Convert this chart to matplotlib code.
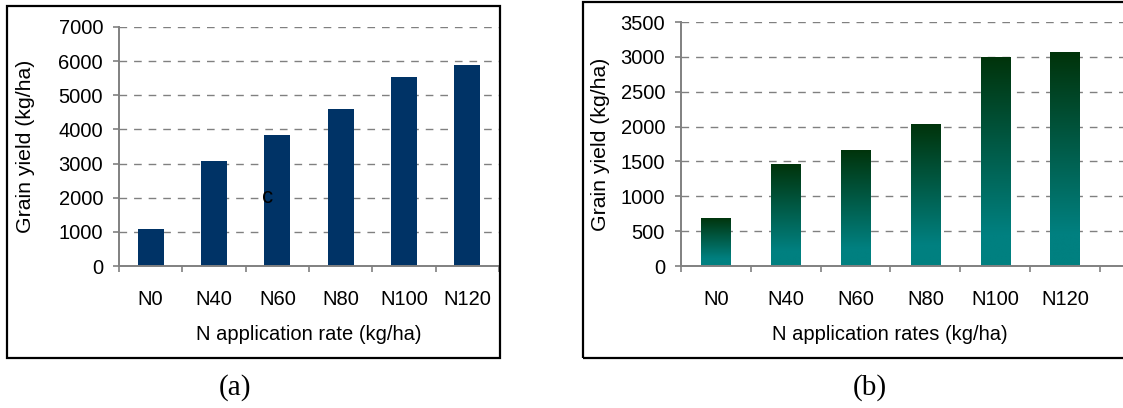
import matplotlib
matplotlib.use("Agg")
import matplotlib.pyplot as plt
import numpy as np
from matplotlib.patches import Rectangle
from matplotlib.colors import to_rgb

plt.rcParams['font.family'] = ['Liberation Sans', 'DejaVu Sans']

categories = ["N0", "N40", "N60", "N80", "N100", "N120"]
yield_a = [1075, 3065, 3830, 4590, 5530, 5880]
yield_b = [690, 1465, 1665, 2040, 3005, 3065]
yticks_a = [0, 1000, 2000, 3000, 4000, 5000, 6000, 7000]
yticks_b = [0, 500, 1000, 1500, 2000, 2500, 3000, 3500]

W, H = 1123, 408
fig = plt.figure(figsize=(W / 100, H / 100), dpi=100)

def px_axes(l, r, t, b):
    return fig.add_axes([l / W, (H - b) / H, (r - l) / W, (b - t) / H])

GRID = '#808080'
FS = 14.5

def style(ax, yticks, xmax):
    x = np.arange(len(categories))
    ax.set_xlim(-0.5, xmax)
    ax.set_ylim(0, yticks[-1])
    ax.set_yticks(yticks)
    ax.set_yticklabels([str(v) for v in yticks])
    ax.set_xticks(x)
    ax.set_xticklabels(categories)
    ax.set_xticks(np.arange(-0.5, len(categories) + 0.5, 1), minor=True)
    for s in ['top', 'right']:
        ax.spines[s].set_visible(False)
    for s in ['left', 'bottom']:
        ax.spines[s].set_color(GRID)
        ax.spines[s].set_linewidth(1.4)
    ax.tick_params(axis='x', which='major', length=0, pad=17, labelsize=FS)
    ax.tick_params(axis='x', which='minor', length=4.5, width=1.2, color=GRID, direction='out')
    ax.tick_params(axis='y', length=4.5, width=1.2, color=GRID, pad=7, labelsize=FS)
    for v in yticks[1:]:
        ax.axhline(v, color=GRID, lw=1.0, ls=(0, (5.5, 5)), zorder=0.5)

# Panel (a)
axa = px_axes(119, 499, 27, 266)
xa = np.arange(len(categories))
axa.bar(xa, yield_a, width=0.41, color='#003366', zorder=2)
style(axa, yticks_a, 5.5)
axa.set_xlabel("N application rate (kg/ha)", fontsize=FS)
axa.xaxis.set_label_coords(0.5, -(325 - 266) / 239)
axa.set_ylabel("Grain yield (kg/ha)", fontsize=15.3)
axa.yaxis.set_label_coords((35 - 119) / 380, 0.5)
axa.text(1.84, 2000, "c", fontsize=16, ha='center', va='center', zorder=3)

# Panel (b)
axb = px_axes(681, 1123, 22, 266)
xb = np.arange(len(categories))
bars = axb.bar(xb, yield_b, width=0.42, facecolor='none', edgecolor='none', zorder=2)
top_c = np.array(to_rgb('#00330a'))
bot_c = np.array(to_rgb('#008080'))
n = 256
t = np.linspace(0, 1, n)
f = np.clip(t / 0.85, 0, 1)[:, None]
grad = (top_c + (bot_c - top_c) * f)[:, None, :]
for bar in bars:
    x0, y0 = bar.get_x(), bar.get_y()
    w, h = bar.get_width(), bar.get_height()
    im = axb.imshow(grad, extent=(x0, x0 + w, y0, y0 + h), aspect='auto',
                    origin='upper', zorder=2, interpolation='bilinear')
    im.set_clip_path(bar)
xmax_b = 5.5 + (1123 - 1100) / 69.7
style(axb, yticks_b, xmax_b)
axb.set_aspect('auto')
axb.set_xlabel("N application rates (kg/ha)", fontsize=FS)
axb.xaxis.set_label_coords((890 - 681) / 442, -(325 - 266) / 244)
axb.set_ylabel("Grain yield (kg/ha)", fontsize=15.3)
axb.yaxis.set_label_coords((610 - 681) / 442, 0.5)

# frames
fig.patches.append(Rectangle((7 / W, (H - 358) / H), 493 / W, 352 / H,
                             transform=fig.transFigure, fill=False, ec='black', lw=1.6))
fig.patches.append(Rectangle((583 / W, (H - 358) / H), 600 / W, 356 / H,
                             transform=fig.transFigure, fill=False, ec='black', lw=1.6))

# captions
fig.text(235 / W, (H - 388) / H, "(a)", fontsize=21, family='Liberation Serif',
         ha='center', va='center')
fig.text(870 / W, (H - 388) / H, "(b)", fontsize=21, family='Liberation Serif',
         ha='center', va='center')

fig.savefig("out.png", dpi=100)
